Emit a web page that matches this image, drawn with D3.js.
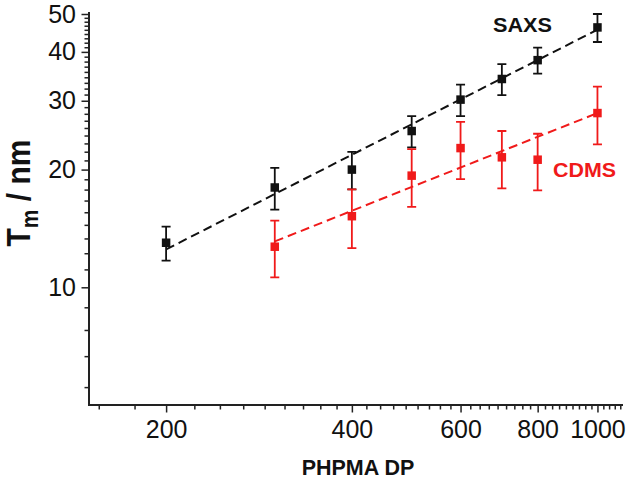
<!DOCTYPE html>
<html>
<head>
<meta charset="utf-8">
<script src="https://cdn.jsdelivr.net/npm/d3@7/dist/d3.min.js"></script>
<style>
  html, body { margin: 0; padding: 0; background: #fff; }
  svg { display: block; font-family: "Liberation Sans", Arial, sans-serif; }
</style>
</head>
<body>
<svg id="chart" width="628" height="485"></svg>
<script>
// ---- data ----
const dpSAXS   = [200, 300, 400, 500, 600, 700, 800, 1000];
const tmSAXS   = [13.0, 18.0, 20.0, 25.1, 30.2, 34.1, 38.1, 46.2];
const errSAXS  = [1.3, 2.2, 2.2, 2.3, 2.8, 3.1, 2.9, 3.8];

const dpCDMS   = [300, 400, 500, 600, 700, 800, 1000];
const tmCDMS   = [12.7, 15.2, 19.3, 22.7, 21.5, 21.2, 27.9];
const errCDMS  = [2.1, 2.6, 3.25, 3.8, 3.6, 3.5, 4.7];

const fitSAXS  = [[200, 12.5], [1000, 45.6]];
const fitCDMS  = [[300, 13.1], [1000, 27.9]];

const xTickLabels = [200, 400, 600, 800, 1000];
const yTickLabels = [10, 20, 30, 40, 50];
const xDomain = [150, 1100];
const yDomain = [5, 50];

// ---- layout ----
const svg = d3.select("#chart");
const pLeft = 89, pRight = 623, pTop = 14, pBottom = 405;
const black = "#111", red = "#f01a1a", axisColor = "#222";

const x = d3.scaleLog().domain(xDomain).range([pLeft, pRight]);
const y = d3.scaleLog().domain(yDomain).range([pBottom, pTop]);

// minor ticks: 8 per major interval
function minorTicks(domain, step) {
  const out = [];
  const sub = step / 9;
  const start = Math.ceil(domain[0] / sub - 1e-9);
  for (let k = start; k * sub <= domain[1] + 1e-9; k++) {
    const v = k * sub;
    if (Math.abs(v / step - Math.round(v / step)) > 1e-6) out.push(v);
  }
  return out;
}
const xMinor = minorTicks(xDomain, 200);
const yMinor = minorTicks(yDomain, 10);

// axes
const gx = svg.append("g").attr("transform", `translate(0,${pBottom})`);
gx.call(d3.axisBottom(x).tickValues(xMinor).tickSize(4.5).tickFormat(""));
gx.call(g => g.select(".domain").remove());
const gxMaj = svg.append("g").attr("transform", `translate(0,${pBottom})`);
gxMaj.call(d3.axisBottom(x).tickValues(xTickLabels).tickSize(7.5).tickPadding(7.5).tickFormat(d3.format("d")));
gxMaj.select(".domain").attr("d", `M${pLeft},0H${pRight}`);

const gy = svg.append("g").attr("transform", `translate(${pLeft},0)`);
gy.call(d3.axisLeft(y).tickValues(yMinor).tickSize(4.5).tickFormat(""));
gy.call(g => g.select(".domain").remove());
const gyMaj = svg.append("g").attr("transform", `translate(${pLeft},0)`);
gyMaj.call(d3.axisLeft(y).tickValues(yTickLabels).tickSize(7.5).tickPadding(5.5).tickFormat(d3.format("d")));
gyMaj.select(".domain").attr("d", `M0,${pTop - 2}V${pBottom + 1}`);

svg.selectAll(".domain").attr("stroke", axisColor).attr("stroke-width", 2).attr("fill", "none");
svg.selectAll(".tick line").attr("stroke", axisColor).attr("stroke-width", 1.5);
svg.selectAll(".tick text").attr("fill", "#111").attr("font-size", 25)
   .attr("font-family", "'Liberation Sans', Arial, sans-serif");

// fit lines
const line = d3.line().x(d => x(d[0])).y(d => y(d[1]));
svg.append("path").datum(fitSAXS).attr("d", line)
  .attr("stroke", black).attr("stroke-width", 2).attr("fill", "none")
  .attr("stroke-dasharray", "9,5");
svg.append("path").datum(fitCDMS).attr("d", line)
  .attr("stroke", red).attr("stroke-width", 2).attr("fill", "none")
  .attr("stroke-dasharray", "9,5");

// series
function drawSeries(dp, tm, err, color) {
  const data = dp.map((d, i) => ({ dp: d, tm: tm[i], e: err[i] }));
  const g = svg.append("g");
  const cap = 4.5;
  data.forEach(d => {
    const cx = x(d.dp), yt = y(d.tm + d.e), yb = y(d.tm - d.e);
    g.append("path")
      .attr("d", `M${cx},${yt}V${yb}M${cx - cap},${yt}H${cx + cap}M${cx - cap},${yb}H${cx + cap}`)
      .attr("stroke", color).attr("stroke-width", 1.8).attr("fill", "none");
  });
  const s = 8.5;
  g.selectAll("rect").data(data).join("rect")
    .attr("x", d => x(d.dp) - s / 2).attr("y", d => y(d.tm) - s / 2)
    .attr("width", s).attr("height", s).attr("fill", color);
}
drawSeries(dpSAXS, tmSAXS, errSAXS, black);
drawSeries(dpCDMS, tmCDMS, errCDMS, red);

// labels
svg.append("text").attr("x", 493).attr("y", 32).attr("font-size", 19.5).attr("font-weight", "bold")
  .attr("textLength", 59).attr("lengthAdjust", "spacingAndGlyphs")
  .attr("fill", black).text("SAXS");
svg.append("text").attr("x", 553).attr("y", 177).attr("font-size", 19.5).attr("font-weight", "bold")
  .attr("textLength", 63).attr("lengthAdjust", "spacingAndGlyphs")
  .attr("fill", red).text("CDMS");

svg.append("text").attr("x", (pLeft + pRight) / 2 + 2).attr("y", 475).attr("text-anchor", "middle")
  .attr("font-size", 21.5).attr("font-weight", "bold").attr("fill", "#111").text("PHPMA DP");

const yTitle = svg.append("text").attr("transform", "translate(30,193) scale(1.12,1) rotate(-90)")
  .attr("text-anchor", "middle").attr("font-size", 30).attr("font-weight", "bold").attr("fill", "#111");
yTitle.append("tspan").text("T");
yTitle.append("tspan").attr("font-size", 21).attr("dy", 7).text("m");
yTitle.append("tspan").attr("dy", -7).text(" / nm");
</script>
</body>
</html>
